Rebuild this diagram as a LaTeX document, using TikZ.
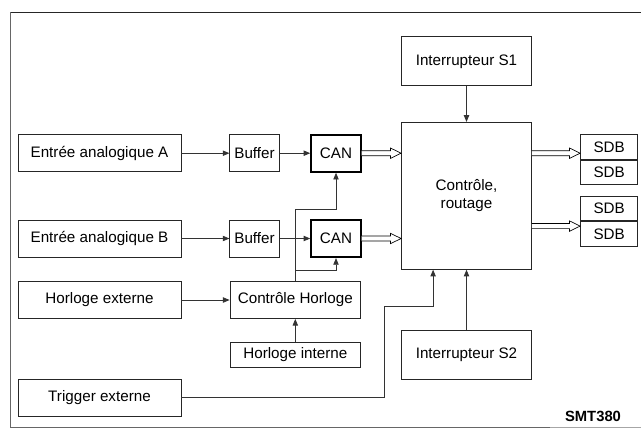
\documentclass[tikz,border=0pt]{standalone}
\usepackage{fontspec}
\setmainfont{Liberation Sans}
\usetikzlibrary{arrows.meta,positioning,calc}

\tikzset{
  blk/.style={draw=black!85,line width=0.6pt,inner sep=0pt,
    font=\fontsize{11.4}{13.7}\selectfont},
  wide/.style={blk,minimum width=122.25pt,minimum height=27.75pt},
  buf/.style={blk,minimum width=37pt,minimum height=27.75pt},
  can/.style={buf,line width=1.6pt,draw=black},
  ctl/.style={blk,minimum width=97.9pt,minimum height=27.75pt},
  sw/.style={blk,minimum width=97.5pt,minimum height=36.75pt},
  sdb/.style={blk,minimum width=43pt,minimum height=18.45pt},
  wire/.style={draw=black!80,line width=0.6pt},
  sig/.style={wire,-{Triangle[length=5pt,width=4pt]}},
  bus/.style={draw=black,line width=0.5pt,fill=white}
}
% double-line bus arrow from #1 to #2 (same height)
\newcommand\busarrow[2]{%
  \draw[bus] ($(#1)+(0pt,1.9pt)$) -- ($(#2)+(-8pt,1.9pt)$)
    -- ($(#2)+(-8pt,3.9pt)$) -- (#2) -- ($(#2)+(-8pt,-3.9pt)$)
    -- ($(#2)+(-8pt,-1.9pt)$) -- ($(#1)+(0pt,-1.9pt)$);}

\begin{document}
\begin{tikzpicture}[x=0.75pt,y=-0.75pt]
  \useasboundingbox (0,0) rectangle (641,429);

  % frame
  \draw[black!85,line width=0.6pt] (641,12.3) -- (10,12.3);
  \draw[black!60,line width=0.6pt] (10,12.3) -- (10,427.7) -- (550,427.7);
  \draw[black!35,line width=0.6pt] (550,427.7) -- (641,427.7);

  % inputs
  \node[wide] (entA) at (99.5,153.2) {Entrée analogique A};
  \node[wide] (entB) at (99.5,238.5) {Entrée analogique B};
  \node[wide] (hext) at (99.5,300)   {Horloge externe};
  \node[wide] (trig) at (99.5,397.7) {Trigger externe};

  \node[buf] (bufA) at (254.5,153.2) {Buffer};
  \node[buf] (bufB) at (254.5,238.5) {Buffer};
  \node[can] (canA) at (336,153.2) {CAN};
  \node[can] (canB) at (336,238.5) {CAN};

  \node[ctl] (chor) at (295.3,300) {Contrôle Horloge};
  \node[ctl,minimum height=18.45pt] (hint) at (295.3,355) {Horloge interne};

  \node[sw] (s1) at (466.5,61.3) {Interrupteur S1};
  \node[sw] (s2) at (466.5,355)  {Interrupteur S2};
  \node[sw,minimum height=110.25pt,align=center] (ctrl) at (466.5,195.8)
    {Contrôle,\\routage};

  \node[sdb] (sdb1a) at (609.2,147)   {SDB};
  \node[sdb,below=0pt of sdb1a] (sdb1b) {SDB};
  \node[sdb] (sdb2a) at (609.2,208.4) {SDB};
  \node[sdb,below=0pt of sdb2a] (sdb2b) {SDB};

  \node[font=\bfseries\fontsize{11.1}{13}\selectfont] (ref) at (593,416.7) {SMT380};

  % signals
  \draw[sig] (entA) -- (bufA);
  \draw[sig] (bufA) -- (canA);
  \draw[sig] (entB) -- (bufB);
  \draw[sig] (bufB) -- (canB);
  \draw[sig] (hext) -- (chor);
  \draw[sig] (hint) -- (chor);
  \draw[sig] (chor.north) -- (chor.north |- 0,209) -| (canA.south);
  \draw[sig] (chor.north |- 0,270) -| (canB.south);
  \draw[sig] (s1) -- (ctrl);
  \draw[sig] (s2) -- (ctrl);
  \coordinate (tk) at ([xshift=24pt]ctrl.south west);
  \draw[sig] (trig.east) -| (384.3,306) -| (tk);

  % buses
  \busarrow{canA.east}{canA.east -| ctrl.west}
  \busarrow{canB.east}{canB.east -| ctrl.west}
  \busarrow{ctrl.east |- canA}{sdb1a.west |- canA}
  \coordinate (busB) at ([yshift=5.8pt]sdb2b.west);
  \busarrow{ctrl.east |- busB}{busB}
\end{tikzpicture}
\end{document}
